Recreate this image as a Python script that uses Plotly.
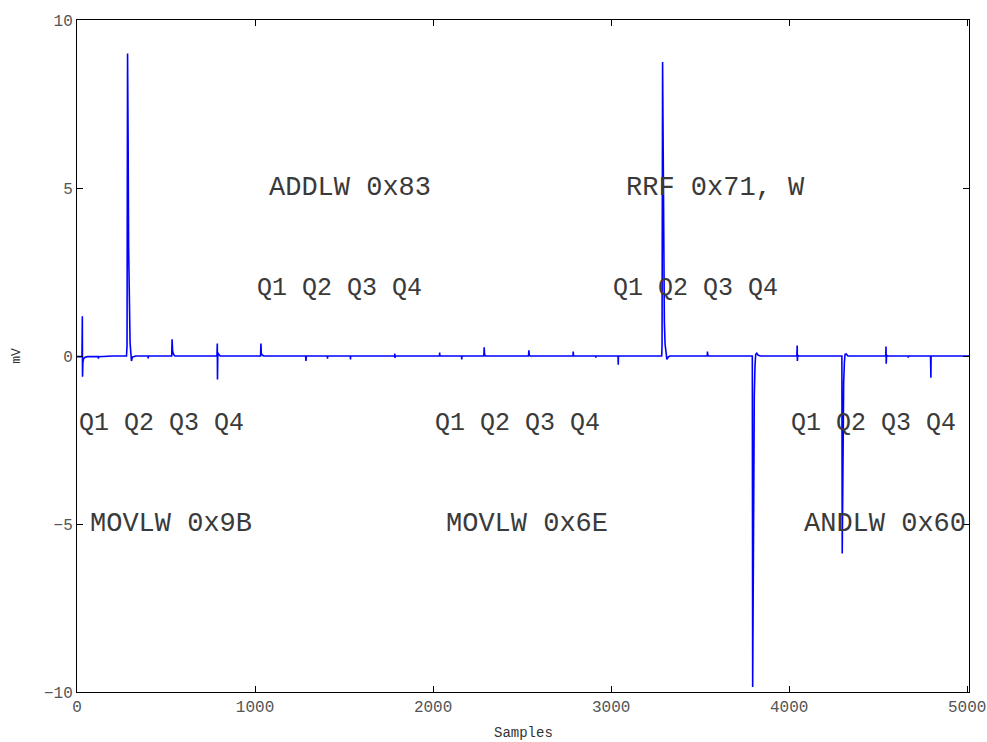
import plotly.graph_objects as go

# Recorded trace: sample index and amplitude (mV) at each vertex of the waveform
samples = [
    0, 28, 30, 31, 33, 37, 45, 60, 119, 120, 121, 200,
    278, 281, 284, 287, 290, 294, 298, 303, 306, 311, 330,
    399, 400, 401, 532, 534, 537, 542, 550,
    786, 788, 789, 791, 797, 805,
    1031, 1033, 1035, 1042, 1050,
    1284, 1286, 1288, 1406, 1407, 1408, 1535, 1536, 1537,
    1784, 1785, 1786, 1787, 2036, 2037, 2038, 2160, 2161, 2162,
    2285, 2287, 2289, 2295, 2536, 2538, 2540, 2546,
    2786, 2787, 2789, 2913, 2914, 2915, 3039, 3040, 3041,
    3284, 3286, 3289, 3292, 3295, 3299, 3303, 3308, 3313, 3320, 3330,
    3540, 3541, 3543, 3550,
    3793, 3795, 3800, 3804, 3808, 3812, 3818, 3826, 3840,
    4043, 4045, 4046, 4048, 4055,
    4296, 4298, 4302, 4306, 4310, 4314, 4320, 4330,
    4542, 4544, 4545, 4547, 4555,
    4668, 4669, 4670, 4794, 4796, 4797, 5010,
]
millivolts = [
    -0.02, -0.02, 1.18, -0.62, -0.20, -0.08, -0.04, -0.02, -0.02, -0.08, -0.02, 0.0,
    0.0, 0.30, 9.00, 6.50, 3.20, 1.20, 0.40, 0.05, -0.15, -0.03, 0.0,
    0.0, -0.07, 0.0, 0.0, 0.50, 0.15, 0.05, 0.0,
    0.0, 0.37, -0.70, 0.10, 0.04, 0.0,
    0.0, 0.37, 0.08, 0.02, 0.0,
    0.0, -0.15, 0.0, 0.0, -0.08, 0.0, 0.0, -0.10, 0.0,
    0.0, 0.07, -0.06, 0.0, 0.0, 0.10, 0.0, 0.0, -0.10, 0.0,
    0.0, 0.26, 0.05, 0.0, 0.0, 0.17, 0.03, 0.0,
    0.0, 0.13, 0.0, 0.0, -0.05, 0.0, 0.0, -0.26, 0.0,
    0.0, 0.30, 8.75, 6.00, 3.00, 1.00, 0.35, 0.05, -0.10, -0.03, 0.0,
    0.0, 0.13, 0.02, 0.0,
    0.0, -9.85, -4.00, -1.20, -0.30, 0.05, 0.08, 0.02, 0.0,
    0.0, 0.31, -0.15, 0.02, 0.0,
    0.0, -5.88, -2.50, -0.80, -0.20, 0.05, 0.06, 0.0,
    0.0, 0.28, -0.23, 0.02, 0.0,
    0.0, -0.05, 0.0, 0.0, -0.65, 0.0, 0.0,
]

# Instruction labels, one per 1000-sample cycle
instr_labels = ["MOVLW 0x9B", "ADDLW 0x83", "MOVLW 0x6E", "RRF 0x71, W", "ANDLW 0x60"]
instr_x = [60, 1065, 2060, 3070, 4070]
instr_y = [-5, 5, -5, 5, -5]

# Quarter-cycle labels
quarter_label = "Q1 Q2 Q3 Q4"
quarter_x = [0, 1000, 2000, 3000, 4000]
quarter_y = [-2, 2, -2, 2, -2]

x_ticks = [0, 1000, 2000, 3000, 4000, 5000]
y_ticks = [-10, -5, 0, 5, 10]

MONO = "Liberation Mono, Courier New, monospace"

fig = go.Figure()
fig.add_trace(go.Scatter(
    x=samples, y=millivolts, mode="lines",
    line=dict(color="#0000ff", width=1.6),
    showlegend=False, hoverinfo="skip",
))

for label, x, y in zip(instr_labels, instr_x, instr_y):
    fig.add_annotation(x=x, y=y, text=label, showarrow=False,
                       xanchor="left", yanchor="middle",
                       font=dict(family=MONO, size=27, color="#3a3a3a"))
for x, y in zip(quarter_x, quarter_y):
    fig.add_annotation(x=x, y=y, text=quarter_label, showarrow=False,
                       xanchor="left", yanchor="middle",
                       font=dict(family=MONO, size=25, color="#3a3a3a"))

# x-axis caption just under the tick labels
fig.add_annotation(x=0.5, y=-0.061, xref="paper", yref="paper",
                   text="Samples", showarrow=False,
                   xanchor="center", yanchor="middle",
                   font=dict(family=MONO, size=14, color="#333333"))

axis_common = dict(
    showgrid=False, zeroline=False, showline=True, linecolor="black",
    linewidth=1, mirror="ticks", ticks="inside", ticklen=6,
    tickcolor="black", automargin=False,
    tickfont=dict(family=MONO, size=16, color="#555555"),
)

fig.update_layout(
    width=987, height=742,
    margin=dict(l=77, r=18, t=20, b=50),
    paper_bgcolor="white", plot_bgcolor="white",
    xaxis=dict(range=[0, 5010], tickvals=x_ticks, **axis_common),
    yaxis=dict(range=[-10, 10], tickvals=y_ticks,
               title=dict(text="mV", standoff=20,
                          font=dict(family=MONO, size=13, color="#333333")),
               **axis_common),
)

fig.write_html("out.html")
